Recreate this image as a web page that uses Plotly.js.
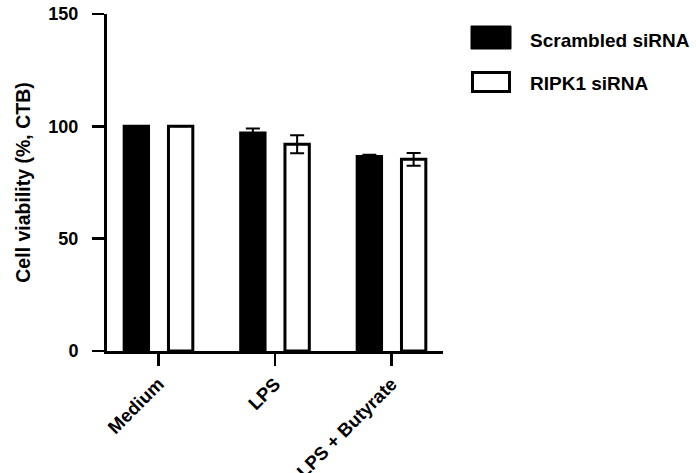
<!DOCTYPE html>
<html>
<head>
<meta charset="utf-8">
<script src="https://cdn.plot.ly/plotly-3.0.1.min.js"></script>
<style>html,body{margin:0;padding:0;background:#fff;}#chart{width:696px;height:473px;}</style>
</head>
<body>
<div id="chart"></div>
<script>
// ---- data ----
const categories = ["Medium", "LPS", "LPS + Butyrate"];
const seriesNames = ["Scrambled siRNA", "RIPK1 siRNA"];
const scrambledMean = [100, 97, 86.6];
const scrambledErr = [0, 2, 0.8];
const ripk1Mean = [100, 92, 85.3];
const ripk1Err = [0, 4, 2.8];
const yTicks = [0, 50, 100, 150];

const FONT = "Liberation Sans, Arial, Helvetica, sans-serif";
const fsz = 18;

const traces = [
  {
    type: "bar", name: seriesNames[0], x: categories, y: scrambledMean,
    marker: {color: "#000000", line: {color: "#000000", width: 3}},
    error_y: {type: "data", array: scrambledErr, visible: true, color: "#000000", thickness: 2, width: 7}
  },
  {
    type: "bar", name: seriesNames[1], x: categories, y: ripk1Mean,
    marker: {color: "#ffffff", line: {color: "#000000", width: 3}},
    error_y: {type: "data", array: ripk1Err, visible: true, color: "#000000", thickness: 2, width: 7}
  }
];

// plot area in pixels
const L = 107, R = 443, T = 14, B = 351, W = 696, H = 473;
const px = x => (x - L) / (R - L);
const py = y => (B - y) / (B - T);

const shapes = [
  {type: "rect", xref: "paper", yref: "paper", x0: px(471), x1: px(511), y0: py(49), y1: py(26),
   fillcolor: "#000000", line: {color: "#000000", width: 1}},
  {type: "rect", xref: "paper", yref: "paper", x0: px(472.5), x1: px(509.5), y0: py(91.5), y1: py(72.5),
   fillcolor: "#ffffff", line: {color: "#000000", width: 3}}
];
const annotations = [
  {xref: "paper", yref: "paper", x: px(528), y: py(40), xanchor: "left", yanchor: "middle", showarrow: false,
   text: seriesNames[0], font: {family: FONT, size: 19, color: "#000", weight: "bold"}},
  {xref: "paper", yref: "paper", x: px(528), y: py(84), xanchor: "left", yanchor: "middle", showarrow: false,
   text: seriesNames[1], font: {family: FONT, size: 19, color: "#000", weight: "bold"}}
];

const layout = {
  width: W, height: H,
  margin: {l: L, r: W - R, t: T, b: H - B, pad: 0},
  paper_bgcolor: "#ffffff", plot_bgcolor: "#ffffff",
  showlegend: false,
  barmode: "group", bargap: 0.24, bargroupgap: 0.45,
  font: {family: FONT, size: fsz, color: "#000", weight: "bold"},
  xaxis: {
    type: "category", range: [-0.442, 2.442], showgrid: false, zeroline: false,
    showline: true, linecolor: "#000", linewidth: 3,
    ticks: "outside", ticklen: 12, tickwidth: 2.5, tickcolor: "#000",
    tickangle: -45, tickfont: {family: FONT, size: 18.5, weight: "bold", color: "#000"},
    automargin: false
  },
  yaxis: {
    range: [0, 150], tickvals: yTicks, ticktext: yTicks.map(String), showgrid: false, zeroline: false,
    showline: true, linecolor: "#000", linewidth: 3,
    ticks: "outside", ticklen: 12, tickwidth: 2.5, tickcolor: "#000", ticklabelstandoff: 10,
    tickfont: {family: FONT, size: fsz, weight: "bold", color: "#000"},
    title: {text: "Cell viability (%, CTB)", font: {family: FONT, size: 19.5, weight: "bold", color: "#000"}, standoff: 13},
    automargin: false
  },
  shapes: shapes,
  annotations: annotations
};

Plotly.newPlot("chart", traces, layout, {displayModeBar: false, staticPlot: true});
</script>
</body>
</html>
